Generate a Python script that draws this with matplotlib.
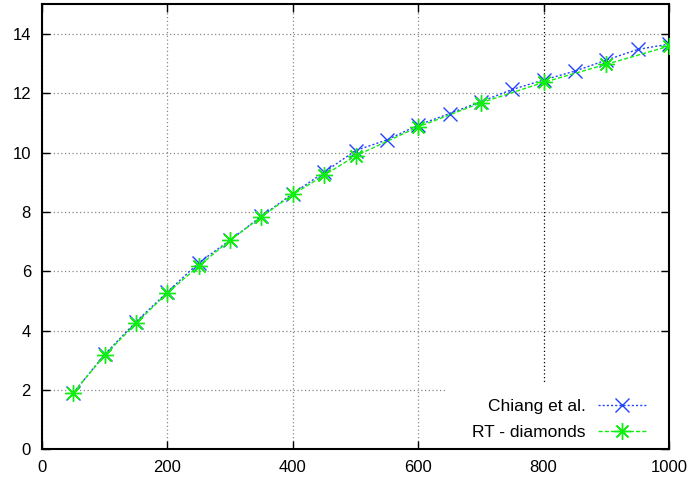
import matplotlib
matplotlib.use("Agg")
import matplotlib.pyplot as plt
from matplotlib.patches import Rectangle

x_chiang = [50, 100, 150, 200, 250, 300, 350, 400, 450, 500, 550, 600, 650, 700,
            750, 800, 850, 900, 950, 1000]
y_chiang = [1.9, 3.2, 4.3, 5.3, 6.29, 7.05, 7.86, 8.62, 9.34, 10.07, 10.43, 10.93,
            11.32, 11.72, 12.13, 12.45, 12.75, 13.12, 13.48, 13.66]
x_rt = [50, 100, 150, 200, 250, 300, 350, 400, 450, 500, 600, 700, 800, 900, 1000]
y_rt = [1.91, 3.17, 4.25, 5.27, 6.18, 7.05, 7.84, 8.59, 9.24, 9.89, 10.87, 11.68,
        12.37, 12.98, 13.59]
x_ticks = [0, 200, 400, 600, 800, 1000]
y_ticks = [0, 2, 4, 6, 8, 10, 12, 14]

plt.rcParams['font.family'] = ['Liberation Sans', 'DejaVu Sans']
fig = plt.figure(figsize=(6.91, 4.82), dpi=100)
ax = fig.add_axes([0.0608, 0.0678, 0.9074, 0.9232])

ax.plot(x_chiang, y_chiang, linestyle=(0, (1.5, 1.5)), color='#2244ff', lw=1.0,
        marker='x', markersize=10, markeredgewidth=1.0, label='Chiang et al.', zorder=3)
ax.plot(x_rt, y_rt, linestyle=(0, (3, 1.5)), color='#11ee11', lw=1.0,
        marker=(8, 2, 0), markersize=12, markeredgewidth=1.0, label='RT - diamonds', zorder=4)

ax.set_xlim(0, 1000)
ax.set_ylim(0, 15)
ax.set_xticks(x_ticks)
ax.set_yticks(y_ticks)
ax.tick_params(direction='in', top=True, right=True, length=6, width=1.0,
               labelsize=12, pad=8)
ax.grid(True, linestyle=(0, (1, 2)), color='#888888', lw=0.9)
for tick, gl in zip(ax.get_xticks(), ax.get_xgridlines()):
    if tick == 800:
        gl.set_color('black')
for s in ax.spines.values():
    s.set_linewidth(1.5)

# white key area that hides the grid behind the legend
ax.add_patch(Rectangle((0.643, 0.0), 0.357, 0.149, transform=ax.transAxes,
                       facecolor='white', edgecolor='none', zorder=2))

leg = ax.legend(loc='lower right', bbox_to_anchor=(0.963, 0.02), markerfirst=False,
                frameon=False, fontsize=12.5, handlelength=2.75,
                borderaxespad=0.0, borderpad=0.0, labelspacing=0.67,
                handletextpad=0.7)

fig.savefig('out.png', dpi=100)
